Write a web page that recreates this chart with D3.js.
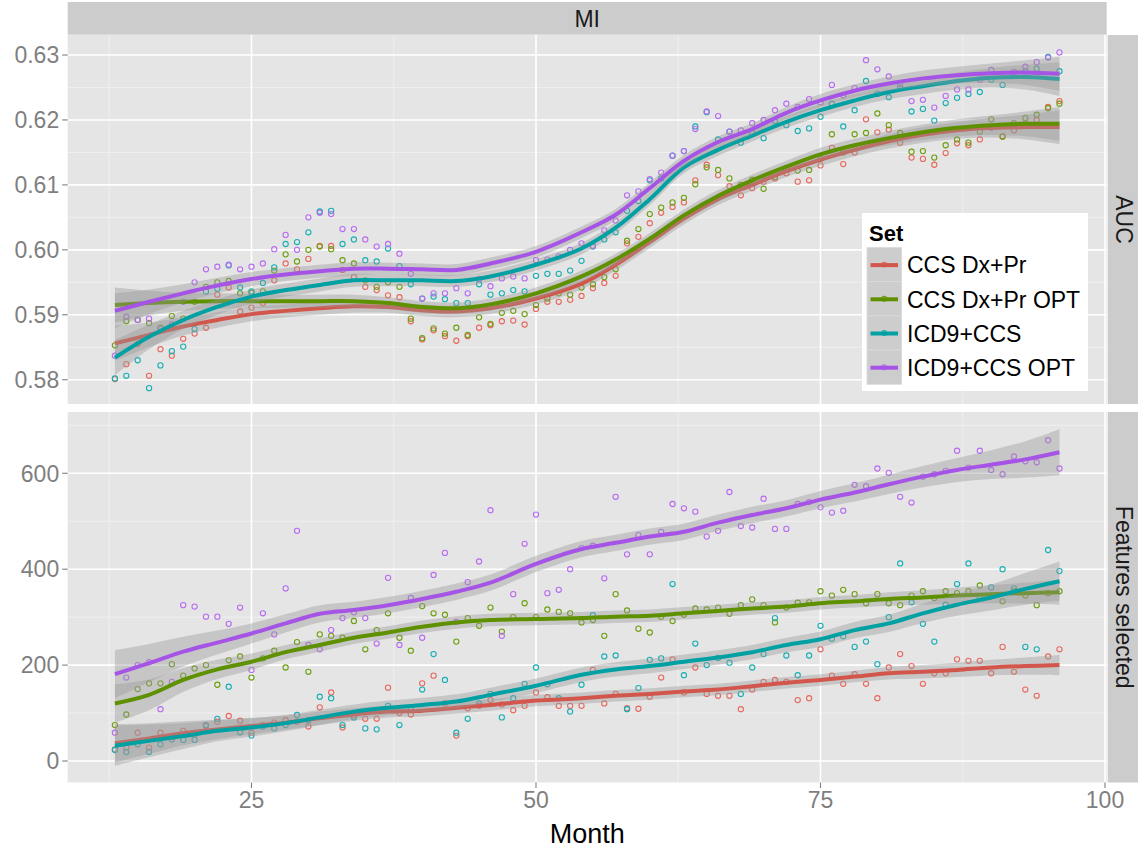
<!DOCTYPE html>
<html lang="en">
<head>
<meta charset="utf-8">
<title>MI</title>
<style>
  body { margin: 0; background: #fff; }
  svg text { font-family: "Liberation Sans", Arial, sans-serif; }
  .grid-major { stroke: #fff; stroke-width: 1.6px; }
  .grid-minor { stroke: #f2f2f2; stroke-width: 0.8px; }
  .tick { stroke: #7f7f7f; stroke-width: 1.1px; }
  .tick-label { fill: #7f7f7f; font-size: 23px; }
  .strip-text { fill: #1a1a1a; font-size: 23px; }
</style>
</head>
<body>
<div id="chart"></div>
<script src="https://d3js.org/d3.v7.min.js"></script>
<script>
var width = 1138, height = 849;

var sets = ["CCS Dx+Pr", "CCS Dx+Pr OPT", "ICD9+CCS", "ICD9+CCS OPT"];
var lineColors = ["#d2564c", "#5e9000", "#00a0a3", "#a654e6"];
var pointColors = ["#e8685e", "#6d9f0e", "#16afb3", "#b86bf2"];

var months = [13,14,15,16,17,18,19,20,21,22,23,24,25,26,27,28,29,30,31,32,33,34,35,36,37,38,39,40,
  41,42,43,44,45,46,47,48,49,50,51,52,53,54,55,56,57,58,59,60,61,62,63,64,65,66,67,68,
  69,70,71,72,73,74,75,76,77,78,79,80,81,82,83,84,85,86,87,88,89,90,91,92,93,94,95,96];

var monthTicks = [25, 50, 75, 100];
var aucTicks = [0.58, 0.59, 0.60, 0.61, 0.62, 0.63];
var featTicks = [0, 200, 400, 600];

// AUC per month
var aucRed = [.5801,.5824,.5855,.5806,.5847,.5837,.5863,.5871,.5880,.5931,
  .5942,.5905,.5911,.5918,.5953,.5979,.5970,.5986,.6006,.6006,
  .5969,.5958,.5943,.5938,.5930,.5927,.5890,.5862,.5876,.5867,
  .5860,.5867,.5880,.5884,.5890,.5891,.5885,.5909,.5920,.5920,
  .5923,.5929,.5941,.5949,.5960,.6010,.6020,.6041,.6057,.6066,
  .6073,.6107,.6131,.6115,.6098,.6084,.6095,.6105,.6110,.6118,
  .6105,.6107,.6130,.6157,.6132,.6150,.6201,.6181,.6185,.6165,
  .6142,.6140,.6131,.6149,.6164,.6161,.6170,.6188,.6175,.6184,
  .6195,.6200,.6220,.6229];
var aucGreen = [.5853,.5890,.5892,.5887,.5880,.5898,.5894,.5920,.5943,.5950,
  .5952,.5933,.5934,.5936,.5968,.5993,.5982,.6000,.6005,.6001,
  .5984,.5979,.5953,.5943,.5950,.5943,.5894,.5864,.5879,.5871,
  .5880,.5869,.5896,.5886,.5903,.5906,.5901,.5915,.5925,.5933,
  .5931,.5942,.5947,.5958,.5970,.6014,.6032,.6055,.6065,.6073,
  .6080,.6101,.6127,.6123,.6110,.6100,.6108,.6094,.6112,.6125,
  .6122,.6123,.6140,.6178,.6150,.6178,.6180,.6210,.6192,.6180,
  .6151,.6152,.6142,.6161,.6170,.6165,.6182,.6201,.6174,.6195,
  .6203,.6208,.6218,.6225];
var aucTeal = [.5802,.5806,.5830,.5787,.5822,.5844,.5851,.5878,.5936,.5940,
  .5976,.5942,.5936,.5949,.5973,.6009,.6012,.6027,.6059,.6060,
  .6009,.6016,.5984,.5982,.6002,.5975,.5947,.5925,.5928,.5924,
  .5918,.5918,.5947,.5931,.5933,.5938,.5936,.5960,.5963,.5963,
  .5968,.5983,.6005,.6016,.6027,.6060,.6075,.6107,.6110,.6145,
  .6152,.6190,.6212,.6170,.6182,.6165,.6180,.6172,.6198,.6192,
  .6183,.6187,.6205,.6225,.6190,.6215,.6260,.6240,.6235,.6250,
  .6213,.6217,.6199,.6226,.6234,.6240,.6243,.6262,.6254,.6268,
  .6275,.6279,.6297,.6275];
var aucPurple = [.5837,.5897,.5892,.5894,.5878,.5885,.5920,.5950,.5970,.5974,
  .5977,.5970,.5974,.5979,.6001,.6023,.6000,.6050,.6057,.6055,
  .6032,.6032,.6016,.6005,.6009,.5994,.5963,.5925,.5933,.5933,
  .5941,.5933,.5955,.5944,.5956,.5959,.5956,.5984,.5985,.5990,
  .6000,.6010,.6006,.6030,.6045,.6084,.6090,.6109,.6119,.6145,
  .6152,.6186,.6213,.6206,.6182,.6184,.6195,.6200,.6215,.6225,
  .6220,.6232,.6227,.6254,.6238,.6249,.6292,.6278,.6267,.6255,
  .6229,.6231,.6219,.6237,.6247,.6247,.6262,.6277,.6268,.6274,
  .6282,.6289,.6296,.6304];

// features selected per month
var featRed = [24,28,59,28,59,50,63,55,73,82, 94,84,59,75,80,85,82,72,112,143,
  70,95,88,88,153,100,97,162,178,120, 53,110,115,127,118,106,115,143,133,115,
  115,115,190,120,140,110,109,134,174,212, 143,195,140,136,136,108,149,165,169,165,
  127,131,233,178,161,181,161,131,195,223, 198,161,183,183,212,209,209,183,238,186,
  149,136,218,233];
var featGreen = [75,97,150,162,162,202,178,193,200,159, 210,218,174,214,230,195,248,186,264,261,
  257,292,233,273,308,257,230,323,308,305, 249,298,282,320,270,300,329,300,316,311,
  308,289,294,261,348,314,276,268,301,292, 305,318,316,320,307,325,337,325,289,320,
  330,331,354,345,357,348,329,348,329,325, 345,354,340,354,350,354,366,345,333,355,
  345,325,350,354];
var featTeal = [23,19,35,19,35,45,44,44,75,88, 155,60,53,72,68,75,96,85,134,131,
  75,91,68,66,115,75,110,149,223,169, 59,88,120,140,91,131,161,195,160,131,
  103,159,304,218,220,108,152,211,214,369, 179,245,200,215,205,140,195,223,298,220,
  179,220,282,255,260,238,249,202,300,412, 331,286,249,326,369,412,340,362,400,360,
  238,233,440,396];
var featPurple = [59,174,200,206,108,165,325,322,301,301, 286,320,190,308,264,360,480,242,233,273,
  298,310,298,245,382,242,340,257,388,434, 290,373,416,523,261,348,453,514,350,357,
  400,444,449,381,551,431,471,431,478,536, 527,520,468,480,561,490,487,547,484,484,
  536,540,529,518,522,576,573,610,601,551, 539,593,598,605,647,612,647,607,598,635,
  625,623,669,610];

// smoothed fits (loess) read at these months, with half-width of the ribbon
var fitMonths = [13,16,19,22,25,28,31,34,37,40,43,46,50,54,57,60,63,66,69,72,75,78,81,84,87,90,93,96];

var aucFitRed = [.5856,.5869,.5882,.5892,.5901,.5906,.5910,.5913,.5912,.5907,.5905,.5910,.5925,.5948,
  .5977,.6012,.6048,.6078,.6100,.6121,.6139,.6154,.6167,.6177,.6184,.6188,.6189,.6189];
var aucFitGreen = [.5915,.5918,.5920,.5921,.5921,.5921,.5921,.5921,.5918,.5912,.5910,.5916,.5933,.5959,
  .5985,.6017,.6053,.6083,.6107,.6128,.6147,.6161,.6172,.6181,.6188,.6192,.6194,.6194];
var aucFitTeal = [.5834,.5866,.5892,.5912,.5928,.5938,.5946,.5953,.5953,.5953,.5952,.5959,.5977,.6002,
  .6034,.6078,.6127,.6154,.6176,.6197,.6215,.6230,.6243,.6252,.6260,.6265,.6266,.6263];
var aucFitPurple = [.5906,.5920,.5933,.5945,.5955,.5962,.5967,.5971,.5971,.5970,.5969,.5979,.5997,.6027,
  .6054,.6095,.6137,.6166,.6186,.6211,.6230,.6245,.6256,.6264,.6269,.6272,.6273,.6271];
var aucBand = [.0027,.0019,.0014,.0012,.0011,.0010,.0010,.0010,.0009,.0009,.0009,.0009,.0009,.0009,
  .0009,.0009,.0009,.0009,.0009,.0009,.0010,.0010,.0011,.0012,.0013,.0015,.0019,.0026];

var featFitRed = [37,47,58,66,73,80,89,97,103,105,111,117,126,131,136,140,145,149,156,163,169,176,183,186,190,195,198,200];
var featFitGreen = [120,138,169,191,207,227,242,257,268,280,289,294,296,298,301,303,308,313,318,322,329,333,338,341,345,348,350,352];
var featFitTeal = [32,42,52,63,70,79,91,103,111,117,124,138,157,180,191,198,207,216,227,242,254,273,287,308,326,341,359,375];
var featFitPurple = [181,204,228,247,266,287,307,315,325,338,353,372,411,442,455,468,478,497,513,527,545,560,577,593,607,618,629,644];
var featBandRed = [40,32,25,20,17,15,14,13,12,12,12,12,12,12,12,12,12,12,12,12,12,12,13,14,15,16,18,21];
var featBandGreen = [40,32,25,20,17,15,14,13,13,13,13,13,13,13,13,13,13,13,13,13,13,13,14,15,17,19,22,26];
var featBandTeal = [42,34,27,22,19,17,16,15,15,15,15,15,15,15,15,15,15,15,15,15,16,17,18,20,23,27,33,41];
var featBandPurple = [50,40,31,25,21,19,18,17,17,17,17,17,17,17,17,17,17,17,17,17,18,19,20,22,25,30,38,48];

var left = 67.7, right = 1106.7;

var panels = [
  { label: "AUC", top: 35, bottom: 404, domain: [0.57626, 0.63308], ticks: aucTicks,
    fmt: d3.format(".2f"),
    points: [aucRed, aucGreen, aucTeal, aucPurple],
    fits: [aucFitRed, aucFitGreen, aucFitTeal, aucFitPurple],
    bands: [aucBand, aucBand, aucBand, aucBand] },
  { label: "Features selected", top: 412, bottom: 782.5, domain: [-44.8, 727.8], ticks: featTicks,
    fmt: d3.format("d"),
    points: [featRed, featGreen, featTeal, featPurple],
    fits: [featFitRed, featFitGreen, featFitTeal, featFitPurple],
    bands: [featBandRed, featBandGreen, featBandTeal, featBandPurple] }
];

var svg = d3.select("#chart").append("svg")
    .attr("width", width)
    .attr("height", height)
    .attr("viewBox", "0 0 " + width + " " + height);

var x = d3.scaleLinear().domain([8.85, 100.15]).range([left, right]);

function midpoints(t, step, dom) {
  var out = [];
  for (var i = -1; i < t.length; i++) {
    var v = (i < 0 ? t[0] - step : t[i]) + step / 2;
    if (v > dom[0] && v < dom[1]) out.push(v);
  }
  return out;
}

// top strip
svg.append("rect")
    .attr("x", left).attr("y", 2)
    .attr("width", right - left).attr("height", 32.7)
    .attr("fill", "#cccccc");
svg.append("text")
    .attr("class", "strip-text")
    .attr("x", (left + right) / 2).attr("y", 18.5)
    .attr("dy", "0.35em")
    .attr("text-anchor", "middle")
    .text("MI");

panels.forEach(function(p) {
  var y = d3.scaleLinear().domain(p.domain).range([p.bottom, p.top]);
  var g = svg.append("g");

  g.append("rect")
      .attr("x", left).attr("y", p.top)
      .attr("width", right - left).attr("height", p.bottom - p.top)
      .attr("fill", "#e5e5e5");

  var ystep = p.ticks[1] - p.ticks[0];
  var xstep = monthTicks[1] - monthTicks[0];

  g.selectAll(".hminor").data(midpoints(p.ticks, ystep, p.domain)).enter().append("line")
      .attr("class", "grid-minor")
      .attr("x1", left).attr("x2", right)
      .attr("y1", function(d) { return y(d); }).attr("y2", function(d) { return y(d); });
  g.selectAll(".vminor").data(midpoints(monthTicks, xstep, x.domain())).enter().append("line")
      .attr("class", "grid-minor")
      .attr("y1", p.top).attr("y2", p.bottom)
      .attr("x1", function(d) { return x(d); }).attr("x2", function(d) { return x(d); });
  g.selectAll(".hmajor").data(p.ticks).enter().append("line")
      .attr("class", "grid-major")
      .attr("x1", left).attr("x2", right)
      .attr("y1", function(d) { return y(d); }).attr("y2", function(d) { return y(d); });
  g.selectAll(".vmajor").data(monthTicks.filter(function(d) { return d < x.domain()[1]; })).enter().append("line")
      .attr("class", "grid-major")
      .attr("y1", p.top).attr("y2", p.bottom)
      .attr("x1", function(d) { return x(d); }).attr("x2", function(d) { return x(d); });

  // points first, smooths over them
  p.points.forEach(function(vals, s) {
    g.selectAll(".pt" + s).data(vals).enter().append("circle")
        .attr("cx", function(d, i) { return x(months[i]); })
        .attr("cy", function(d) { return y(d); })
        .attr("r", 2.6)
        .attr("fill", "none")
        .attr("stroke", pointColors[s])
        .attr("stroke-width", 1.1);
  });

  p.fits.forEach(function(fit, s) {
    var rows = fit.map(function(f, i) { return { m: fitMonths[i], f: f, b: p.bands[s][i] }; });
    var area = d3.area()
        .x(function(d) { return x(d.m); })
        .y0(function(d) { return y(d.f - d.b); })
        .y1(function(d) { return y(d.f + d.b); })
        .curve(d3.curveCatmullRom);
    var line = d3.line()
        .x(function(d) { return x(d.m); })
        .y(function(d) { return y(d.f); })
        .curve(d3.curveCatmullRom);
    g.append("path").datum(rows)
        .attr("d", area)
        .attr("fill", "#999999")
        .attr("fill-opacity", 0.4);
    g.append("path").datum(rows)
        .attr("d", line)
        .attr("fill", "none")
        .attr("stroke", lineColors[s])
        .attr("stroke-width", 4);
  });

  // y axis
  g.selectAll(".yt").data(p.ticks).enter().append("line")
      .attr("class", "tick")
      .attr("x1", left - 5.5).attr("x2", left)
      .attr("y1", function(d) { return y(d); }).attr("y2", function(d) { return y(d); });
  g.selectAll(".yl").data(p.ticks).enter().append("text")
      .attr("class", "tick-label")
      .attr("x", left - 8.5)
      .attr("y", function(d) { return y(d); })
      .attr("dy", "0.36em")
      .attr("text-anchor", "end")
      .text(p.fmt);

  // right strip
  svg.append("rect")
      .attr("x", right + 1).attr("y", p.top)
      .attr("width", 34).attr("height", p.bottom - p.top)
      .attr("fill", "#cccccc");
  svg.append("text")
      .attr("class", "strip-text")
      .attr("transform", "translate(" + (right + 17) + "," + ((p.top + p.bottom) / 2) + ") rotate(90)")
      .attr("dy", "0.35em")
      .attr("text-anchor", "middle")
      .text(p.label);
});

// x axis under the bottom panel
var xb = panels[1].bottom;
svg.selectAll(".xt").data(monthTicks).enter().append("line")
    .attr("class", "tick")
    .attr("y1", xb).attr("y2", xb + 5.5)
    .attr("x1", function(d) { return x(d); }).attr("x2", function(d) { return x(d); });
svg.selectAll(".xl").data(monthTicks).enter().append("text")
    .attr("class", "tick-label")
    .attr("x", function(d) { return x(d); })
    .attr("y", 808)
    .attr("text-anchor", "middle")
    .text(function(d) { return d; });
svg.append("text")
    .attr("x", (left + right) / 2).attr("y", 843)
    .attr("text-anchor", "middle")
    .attr("font-size", "27px")
    .attr("fill", "#000")
    .text("Month");

// legend
var lg = svg.append("g").attr("transform", "translate(862,213)");
lg.append("rect").attr("width", 226).attr("height", 178).attr("fill", "#fff");
lg.append("text")
    .attr("x", 7).attr("y", 28)
    .attr("font-size", "22px").attr("font-weight", "bold")
    .text("Set");
var keys = lg.selectAll(".key").data(sets).enter().append("g")
    .attr("transform", function(d, i) { return "translate(5," + (34.5 + i * 34.2) + ")"; });
keys.append("rect")
    .attr("width", 34.5).attr("height", 34.2)
    .attr("fill", "#cdcdcd")
    .attr("stroke", "#dadada").attr("stroke-width", 0.8);
keys.append("circle")
    .attr("cx", 17.2).attr("cy", 17.1).attr("r", 2.4)
    .attr("fill", "none")
    .attr("stroke", function(d, i) { return pointColors[i]; })
    .attr("stroke-width", 1.1);
keys.append("line")
    .attr("x1", 3.5).attr("x2", 31)
    .attr("y1", 17.6).attr("y2", 17.6)
    .attr("stroke", function(d, i) { return lineColors[i]; })
    .attr("stroke-width", 4);
keys.append("text")
    .attr("x", 40).attr("y", 17.6)
    .attr("dy", "0.36em")
    .attr("font-size", "23px")
    .attr("fill", "#000")
    .text(function(d) { return d; });
</script>
</body>
</html>
